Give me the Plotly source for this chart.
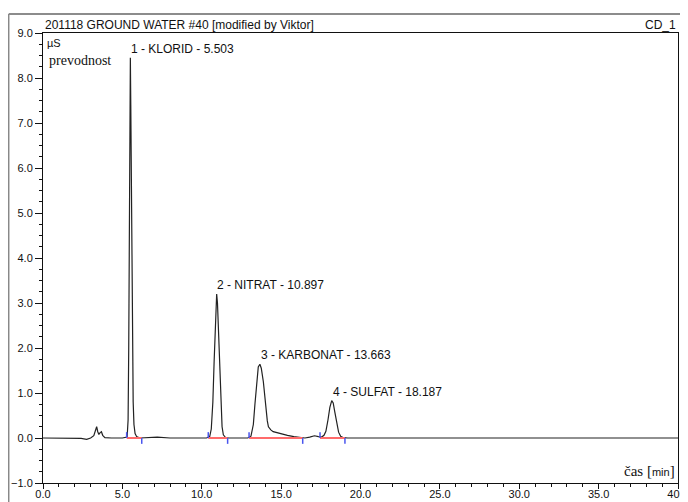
import plotly.graph_objects as go

# ---- data ----
time_min = [0.0, 1.5, 2.4, 2.75, 3.0, 3.2, 3.3, 3.38, 3.45, 3.52, 3.6, 3.68, 3.76, 3.9, 4.3, 5.0,
            5.3, 5.36, 5.40, 5.44, 5.47, 5.503, 5.53, 5.56, 5.60, 5.64, 5.68, 5.73, 5.80, 5.9, 6.1,
            7.2, 8.0, 10.3, 10.5, 10.6, 10.7, 10.78, 10.85, 10.897, 10.94, 10.99, 11.05, 11.12,
            11.2, 11.28, 11.36, 11.5, 11.7, 12.9, 13.1, 13.25, 13.35, 13.46, 13.56, 13.663, 13.75,
            13.88, 13.97, 14.05, 14.13, 14.2, 14.35, 14.5, 14.8, 15.1, 15.4, 15.8, 16.2, 16.5,
            16.8, 17.1, 17.35, 17.55, 17.7, 17.82, 17.95, 18.07, 18.187, 18.28, 18.38, 18.5,
            18.62, 18.75, 18.9, 19.2, 25.0, 40.0]
signal_uS = [0.0, 0.0, -0.01, -0.03, 0.0, 0.05, 0.15, 0.25, 0.14, 0.08, 0.12, 0.14, 0.06, 0.01, 0.0, 0.0,
             0.02, 0.4, 2.0, 4.8, 7.2, 8.45, 7.4, 5.5, 3.4, 1.8, 0.8, 0.3, 0.1, 0.03, 0.0,
             0.02, 0.0, 0.0, 0.03, 0.2, 0.8, 1.7, 2.6, 3.1, 3.2, 3.0, 2.4, 1.5,
             0.7, 0.25, 0.07, 0.01, 0.0, 0.0, 0.04, 0.3, 0.75, 1.3, 1.58, 1.64, 1.55,
             1.25, 0.9, 0.6, 0.38, 0.25, 0.18, 0.14, 0.11, 0.08, 0.06, 0.03, 0.01, 0.0,
             0.02, 0.05, 0.03, 0.02, 0.06, 0.15, 0.4, 0.68, 0.83, 0.78, 0.58, 0.32,
             0.13, 0.04, 0.01, 0.0, 0.0, 0.0]

peak_names = ["1 - KLORID - 5.503", "2 - NITRAT - 10.897", "3 - KARBONAT - 13.663", "4 - SULFAT - 18.187"]
peak_rt = [5.503, 10.897, 13.663, 18.187]
peak_height = [8.45, 3.2, 1.64, 0.83]
peak_start = [5.27, 10.41, 12.98, 17.45]
peak_end = [6.22, 11.63, 16.36, 19.02]

x_range = [0, 40]
x_major_step = 5
x_minor_step = 1
y_range = [-1, 9]
y_major_step = 1
y_minor_step = 0.25

TICK_H = 0.13  # height of baseline event ticks (signal units)

fig = go.Figure()

fig.add_trace(go.Scatter(x=time_min, y=signal_uS, mode="lines",
                         line=dict(color="#222222", width=1.2), hoverinfo="skip"))

# red integration baselines
bx, by = [], []
for s, e in zip(peak_start, peak_end):
    bx += [s, e, None]
    by += [0, 0, None]
fig.add_trace(go.Scatter(x=bx, y=by, mode="lines", line=dict(color="#ff6b6b", width=2),
                         hoverinfo="skip"))

# blue peak start/end ticks
tx, ty = [], []
for s, e in zip(peak_start, peak_end):
    tx += [s, s, None, e, e, None]
    ty += [0, TICK_H, None, 0, -TICK_H, None]
fig.add_trace(go.Scatter(x=tx, y=ty, mode="lines", line=dict(color="#4a55ee", width=1.5),
                         hoverinfo="skip"))

sans = "Liberation Sans"
serif = "Liberation Serif"

annotations = []
for name, rt, h in zip(peak_names, peak_rt, peak_height):
    annotations.append(dict(x=rt, y=h, xref="x", yref="y", text=name, showarrow=False,
                            xanchor="left", yanchor="bottom", xshift=-1,
                            font=dict(family=sans, size=12, color="#111")))

annotations += [
    dict(x=0.0, y=1.0178, xref="paper", yref="paper", text="201118 GROUND WATER #40 [modified by Viktor]",
         showarrow=False, xanchor="left", yanchor="middle", font=dict(family=sans, size=12, color="#111")),
    dict(x=1.0, y=1.0178, xref="paper", yref="paper", text="CD_1",
         showarrow=False, xanchor="right", yanchor="middle", font=dict(family=sans, size=12, color="#111")),
    dict(x=0.003, y=0.978, xref="paper", yref="paper", text="µS",
         showarrow=False, xanchor="left", yanchor="middle", font=dict(family=sans, size=11, color="#111")),
    dict(x=0.006, y=0.94, xref="paper", yref="paper", text="prevodnost",
         showarrow=False, xanchor="left", yanchor="middle", font=dict(family=serif, size=14, color="#111")),
    dict(x=0.999, y=0.026, xref="paper", yref="paper",
         text='čas <span style="font-family:Liberation Serif;font-size:15px">[</span><span style="font-family:Liberation Sans;font-size:11px">min</span><span style="font-family:Liberation Serif;font-size:15px">]</span>',
         showarrow=False, xanchor="right", yanchor="middle", font=dict(family=serif, size=15, color="#111")),
]

shapes = [
    dict(type="line", xref="paper", yref="paper", x0=-0.054, x1=1.02, y0=1.0422, y1=1.0422,
         line=dict(color="#666666", width=1.5)),
    dict(type="line", xref="paper", yref="paper", x0=-0.054, x1=-0.054, y0=1.0422, y1=-0.05,
         line=dict(color="#888888", width=1.5)),
]

# page body adds an 8px offset, so the figure is 8px smaller than the window
fig.update_layout(
    width=680, height=494,
    margin=dict(l=35, r=10, t=25, b=19, autoexpand=False),
    paper_bgcolor="white", plot_bgcolor="white",
    showlegend=False,
    annotations=annotations,
    shapes=shapes,
    xaxis=dict(range=x_range, tick0=0, dtick=x_major_step, tickformat=".1f", ticks="outside", ticklen=5,
               tickcolor="#111", showline=True, linecolor="#111", linewidth=1, mirror=True,
               showgrid=False, zeroline=False, automargin=False,
               ticklabelstandoff=-4, ticklabeloverflow="allow",
               tickfont=dict(family=sans, size=11, color="#111"),
               minor=dict(tick0=0, dtick=x_minor_step, ticks="outside", ticklen=3, tickcolor="#111", showgrid=False)),
    yaxis=dict(range=y_range, tick0=0, dtick=y_major_step, tickformat=".1f", ticks="outside", ticklen=7,
               tickcolor="#111", showline=True, linecolor="#111", linewidth=1, mirror=True,
               showgrid=False, zeroline=False, automargin=False,
               tickfont=dict(family=sans, size=11, color="#111"),
               minor=dict(tick0=0, dtick=y_minor_step, ticks="outside", ticklen=3, tickcolor="#111", showgrid=False)),
)

fig.write_html("out.html")
